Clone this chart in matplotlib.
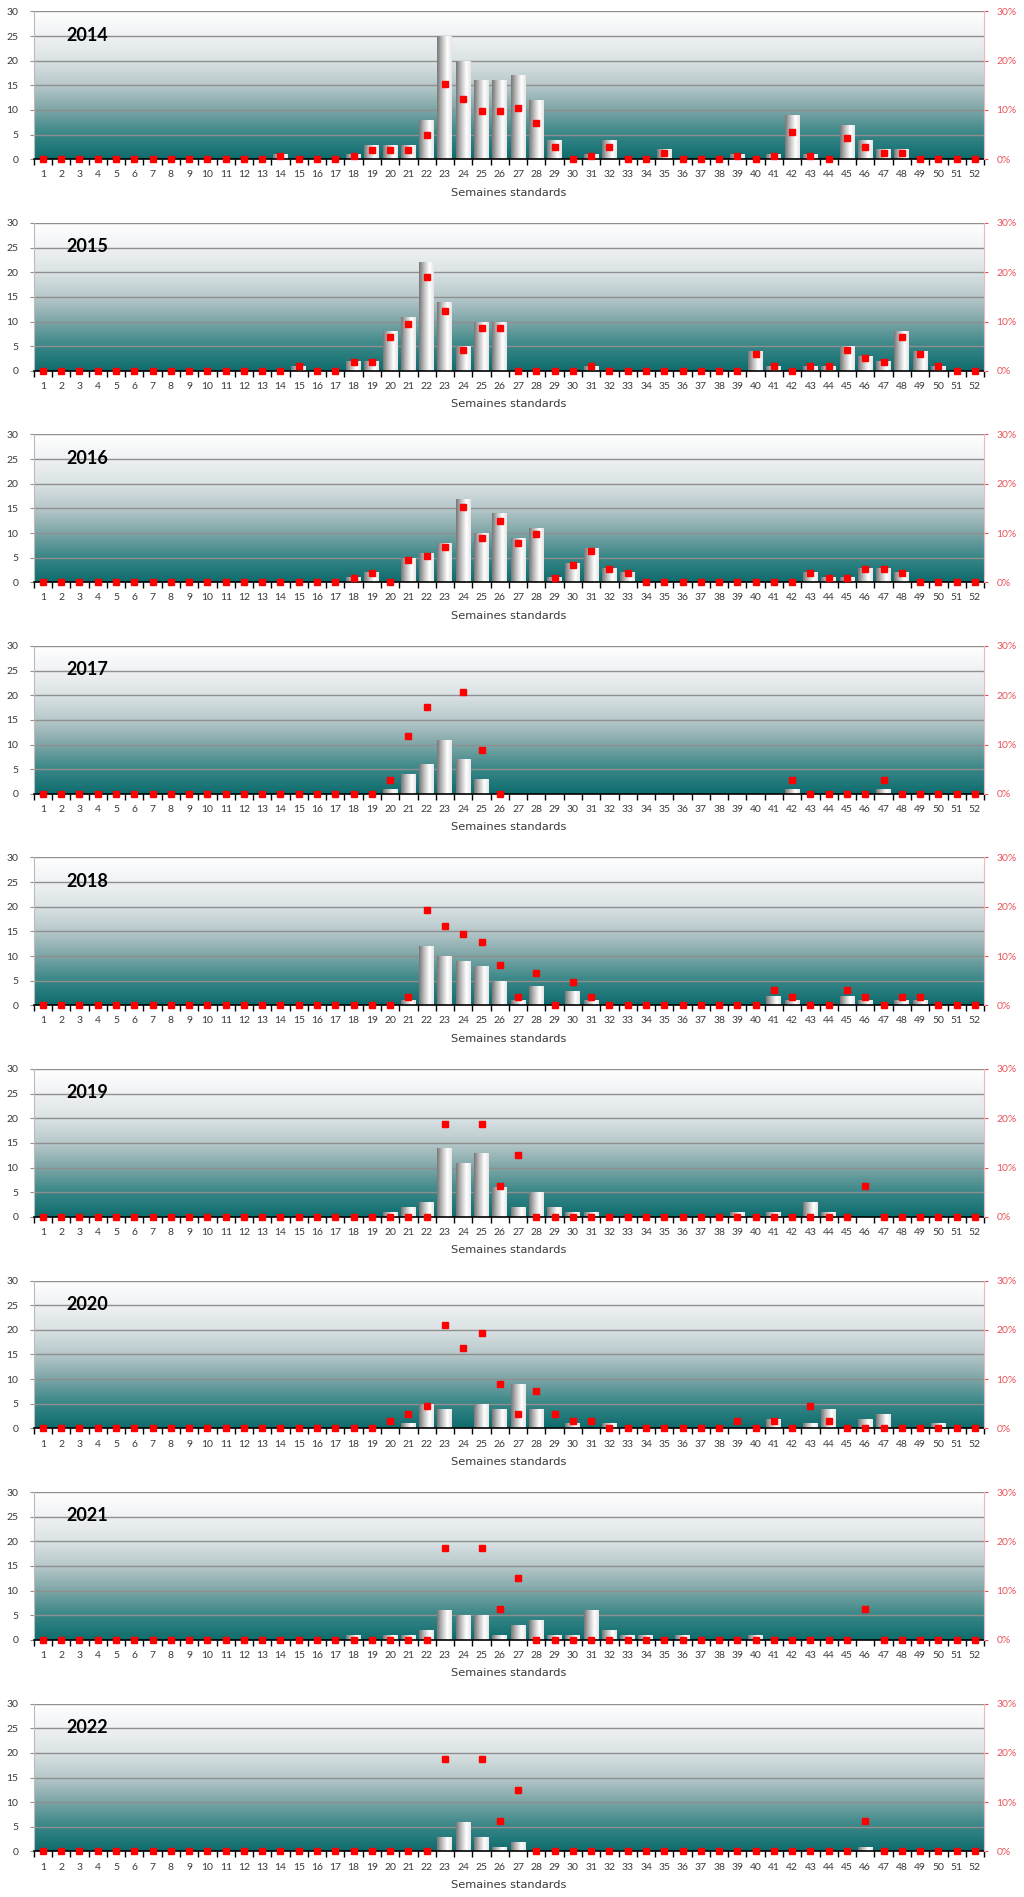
"""Weekly counts (bars) and share of yearly total (red squares), 2014-2022."""
import numpy as np
import matplotlib

matplotlib.use("Agg")
import matplotlib.pyplot as plt
from matplotlib.colors import LinearSegmentedColormap
from matplotlib.ticker import FuncFormatter, MultipleLocator

N = np.nan
weeks = list(range(1, 53))
years = ["2014", "2015", "2016", "2017", "2018", "2019", "2020", "2021", "2022"]

# counts per standard week (1-13, 14-26, 27-39, 40-52)
counts_2014 = [0, 0, 0, 0, 0, 0, 0, 0, 0, 0, 0, 0, 0,
               1, 0, 0, 0, 1, 3, 3, 3, 8, 25, 20, 16, 16,
               17, 12, 4, 0, 1, 4, 0, 0, 2, 0, 0, 0, 1,
               0, 1, 9, 1, 0, 7, 4, 2, 2, 0, 0, 0, 0]
counts_2015 = [0, 0, 0, 0, 0, 0, 0, 0, 0, 0, 0, 0, 0,
               0, 1, 0, 0, 2, 2, 8, 11, 22, 14, 5, 10, 10,
               0, 0, 0, 0, 1, 0, 0, 0, 0, 0, 0, 0, 0,
               4, 1, 0, 1, 1, 5, 3, 2, 8, 4, 1, 0, 0]
counts_2016 = [0, 0, 0, 0, 0, 0, 0, 0, 0, 0, 0, 0, 0,
               0, 0, 0, 0, 1, 2, 0, 5, 6, 8, 17, 10, 14,
               9, 11, 1, 4, 7, 3, 2, 0, 0, 0, 0, 0, 0,
               0, 0, 0, 2, 1, 1, 3, 3, 2, 0, 0, 0, 0]
counts_2017 = [0, 0, 0, 0, 0, 0, 0, 0, 0, 0, 0, 0, 0,
               0, 0, 0, 0, 0, 0, 1, 4, 6, 11, 7, 3, 0,
               0, 0, 0, 0, 0, 0, 0, 0, 0, 0, 0, 0, 0,
               0, 0, 1, 0, 0, 0, 0, 1, 0, 0, 0, 0, 0]
counts_2018 = [0, 0, 0, 0, 0, 0, 0, 0, 0, 0, 0, 0, 0,
               0, 0, 0, 0, 0, 0, 0, 1, 12, 10, 9, 8, 5,
               1, 4, 0, 3, 1, 0, 0, 0, 0, 0, 0, 0, 0,
               0, 2, 1, 0, 0, 2, 1, 0, 1, 1, 0, 0, 0]
counts_2019 = [0, 0, 0, 0, 0, 0, 0, 0, 0, 0, 0, 0, 0,
               0, 0, 0, 0, 0, 0, 1, 2, 3, 14, 11, 13, 6,
               2, 5, 2, 1, 1, 0, 0, 0, 0, 0, 0, 0, 1,
               0, 1, 0, 3, 1, 0, 0, 0, 0, 0, 0, 0, 0]
counts_2020 = [0, 0, 0, 0, 0, 0, 0, 0, 0, 0, 0, 0, 0,
               0, 0, 0, 0, 0, 0, 0, 1, 5, 4, 0, 5, 4,
               9, 4, 0, 1, 0, 1, 0, 0, 0, 0, 0, 0, 0,
               0, 2, 0, 1, 4, 0, 2, 3, 0, 0, 1, 0, 0]
counts_2021 = [0, 0, 0, 0, 0, 0, 0, 0, 0, 0, 0, 0, 0,
               0, 0, 0, 0, 1, 0, 1, 1, 2, 6, 5, 5, 1,
               3, 4, 1, 1, 6, 2, 1, 1, 0, 1, 0, 0, 0,
               1, 0, 0, 0, 0, 0, 0, 0, 0, 0, 0, 0, 0]
counts_2022 = [0, 0, 0, 0, 0, 0, 0, 0, 0, 0, 0, 0, 0,
               0, 0, 0, 0, 0, 0, 0, 0, 0, 3, 6, 3, 1,
               2, 0, 0, 0, 0, 0, 0, 0, 0, 0, 0, 0, 0,
               0, 0, 0, 0, 0, 0, 1, 0, 0, 0, 0, 0, 0]

# share (%) per week, N = no point drawn
pct_2014 = [0, 0, 0, 0, 0, 0, 0, 0, 0, 0, 0, 0, 0,
            0.6, 0, 0, 0, 0.6, 1.8, 1.8, 1.8, 4.9, 15.3, 12.3, 9.8, 9.8,
            10.4, 7.4, 2.5, 0, 0.6, 2.5, 0, 0, 1.2, 0, 0, 0, 0.6,
            0, 0.6, 5.5, 0.6, 0, 4.3, 2.5, 1.2, 1.2, 0, 0, 0, 0]
pct_2015 = [0, 0, 0, 0, 0, 0, 0, 0, 0, 0, 0, 0, 0,
            0, 0.9, 0, 0, 1.7, 1.7, 6.9, 9.5, 19.0, 12.1, 4.3, 8.6, 8.6,
            0, 0, 0, 0, 0.9, 0, 0, 0, 0, 0, 0, 0, 0,
            3.4, 0.9, 0, 0.9, 0.9, 4.3, 2.6, 1.7, 6.9, 3.4, 0.9, 0, 0]
pct_2016 = [0, 0, 0, 0, 0, 0, 0, 0, 0, 0, 0, 0, 0,
            0, 0, 0, 0, 0.9, 1.8, 0, 4.5, 5.4, 7.1, 15.2, 8.9, 12.5,
            8.0, 9.8, 0.9, 3.6, 6.3, 2.7, 1.8, 0, 0, 0, 0, 0, 0,
            0, 0, 0, 1.8, 0.9, 0.9, 2.7, 2.7, 1.8, 0, 0, 0, 0]
pct_2017 = [0, 0, 0, 0, 0, 0, 0, 0, 0, 0, 0, 0, 0,
            0, 0, 0, 0, 0, 0, 2.9, 11.8, 17.6, N, 20.6, 8.8, 0,
            N, N, N, N, N, N, N, N, N, N, N, N, N,
            N, N, 2.9, 0, 0, 0, 0, 2.9, 0, 0, 0, 0, 0]
pct_2018 = [0, 0, 0, 0, 0, 0, 0, 0, 0, 0, 0, 0, 0,
            0, 0, 0, 0, 0, 0, 0, 1.6, 19.4, 16.1, 14.5, 12.9, 8.1,
            1.6, 6.5, 0, 4.8, 1.6, 0, 0, 0, 0, 0, 0, 0, 0,
            0, 3.2, 1.6, 0, 0, 3.2, 1.6, 0, 1.6, 1.6, 0, 0, 0]
pct_2019 = [0, 0, 0, 0, 0, 0, 0, 0, 0, 0, 0, 0, 0,
            0, 0, 0, 0, 0, 0, 0, 0, 0, 18.75, N, 18.75, 6.25,
            12.5, 0, 0, 0, 0, 0, 0, 0, 0, 0, 0, 0, 0,
            0, 0, 0, 0, 0, 0, 6.25, 0, 0, 0, 0, 0, 0]
pct_2020 = [0, 0, 0, 0, 0, 0, 0, 0, 0, 0, 0, 0, 0,
            0, 0, 0, 0, 0, 0, 1.5, 3.0, 4.5, 20.9, 16.4, 19.4, 9.0,
            3.0, 7.5, 3.0, 1.5, 1.5, 0, 0, 0, 0, 0, 0, 0, 1.5,
            0, 1.5, 0, 4.5, 1.5, 0, 0, 0, 0, 0, 0, 0, 0]
pct_2021 = [0, 0, 0, 0, 0, 0, 0, 0, 0, 0, 0, 0, 0,
            0, 0, 0, 0, 0, 0, 0, 0, 0, 18.75, N, 18.75, 6.25,
            12.5, 0, 0, 0, 0, 0, 0, 0, 0, 0, 0, 0, 0,
            0, 0, 0, 0, 0, 0, 6.25, 0, 0, 0, 0, 0, 0]
pct_2022 = [0, 0, 0, 0, 0, 0, 0, 0, 0, 0, 0, 0, 0,
            0, 0, 0, 0, 0, 0, 0, 0, 0, 18.75, N, 18.75, 6.25,
            12.5, 0, 0, 0, 0, 0, 0, 0, 0, 0, 0, 0, 0,
            0, 0, 0, 0, 0, 0, 6.25, 0, 0, 0, 0, 0, 0]

counts = [counts_2014, counts_2015, counts_2016, counts_2017, counts_2018,
          counts_2019, counts_2020, counts_2021, counts_2022]
pcts = [pct_2014, pct_2015, pct_2016, pct_2017, pct_2018,
        pct_2019, pct_2020, pct_2021, pct_2022]

INK = "#3a3a3a"
RED = "#ff0000"
RED_AXIS = "#e8555c"
GRID = "#8f8f8f"

plt.rcParams["font.family"] = ["Lato", "DejaVu Sans"]

bg_cmap = LinearSegmentedColormap.from_list(
    "bg", [(0.0, "#0d6c6d"), (0.17, "#3a8788"), (0.35, "#84a9aa"),
           (0.5, "#b7c8ca"), (0.67, "#dbe3e5"), (0.85, "#f1f3f5"), (1.0, "#ffffff")])
bar_cmap = LinearSegmentedColormap.from_list(
    "bar", [(0.0, "#767676"), (0.35, "#c0c0c0"), (0.7, "#ffffff"), (1.0, "#e4e4e4")])
bg = np.linspace(0, 1, 256).reshape(-1, 1)
bar_grad = np.linspace(0, 1, 64).reshape(1, -1)

fig, axes = plt.subplots(9, 1, figsize=(10.24, 18.97), dpi=100)
fig.subplots_adjust(left=0.033, right=0.961, top=0.994, bottom=0.024, hspace=0.43)

for ax, year, cnt, pct in zip(axes, years, counts, pcts):
    ax.imshow(bg, cmap=bg_cmap, origin="lower", aspect="auto",
              extent=(0.5, 52.5, 0, 30), zorder=0, interpolation="bilinear")
    for yv in range(5, 31, 5):
        ax.axhline(yv, color=GRID, lw=1.0, zorder=1)

    bars = ax.bar(weeks, cnt, width=0.82, color="none", edgecolor="none", zorder=2)
    for rect in bars:
        h = rect.get_height()
        if h <= 0:
            continue
        x0, w = rect.get_x(), rect.get_width()
        im = ax.imshow(bar_grad, cmap=bar_cmap, aspect="auto",
                       extent=(x0, x0 + w, 0, h), zorder=2, interpolation="bilinear")
        im.set_clip_path(rect)

    ax.set_xlim(0.5, 52.5)
    ax.set_ylim(0, 30)
    ax.set_xticks(weeks)
    ax.set_xticklabels([str(w) for w in weeks], fontsize=7.5, color=INK)
    ax.xaxis.set_minor_locator(MultipleLocator(1, offset=0.5))
    ax.tick_params(axis="x", which="major", length=0, pad=8)
    ax.tick_params(axis="x", which="minor", length=4, width=1, color="black", direction="out")
    ax.set_yticks(range(0, 31, 5))
    ax.tick_params(axis="y", labelsize=7.5, labelcolor=INK, length=3, color=GRID, pad=8)
    ax.set_xlabel("Semaines standards", fontsize=8.2, color=INK, labelpad=6,
                  family="DejaVu Sans")
    for side in ("top", "right"):
        ax.spines[side].set_visible(False)
    ax.spines["left"].set_color("#bbbbbb")
    ax.spines["bottom"].set_color("black")
    ax.spines["bottom"].set_linewidth(1.2)
    ax.spines["bottom"].set_zorder(3)

    ax.text(0.034, 0.84, year, transform=ax.transAxes, fontsize=13,
            fontweight="bold", color="black", va="center", ha="left", zorder=5)

    ax2 = ax.twinx()
    ax2.plot(weeks, np.array(pct, dtype=float), linestyle="none", marker="s",
             ms=4.8, color=RED, clip_on=False, zorder=6)
    ax2.set_ylim(0, 30)
    ax2.set_yticks([0, 10, 20, 30])
    ax2.yaxis.set_major_formatter(FuncFormatter(lambda v, _: f"{v:.0f}%"))
    ax2.tick_params(axis="y", labelsize=7.5, labelcolor=RED_AXIS, color=RED_AXIS,
                    length=3, pad=6)
    for side in ("top", "left", "bottom"):
        ax2.spines[side].set_visible(False)
    ax2.spines["right"].set_color("#f2b5b8")

fig.savefig("out.png", facecolor="white")
